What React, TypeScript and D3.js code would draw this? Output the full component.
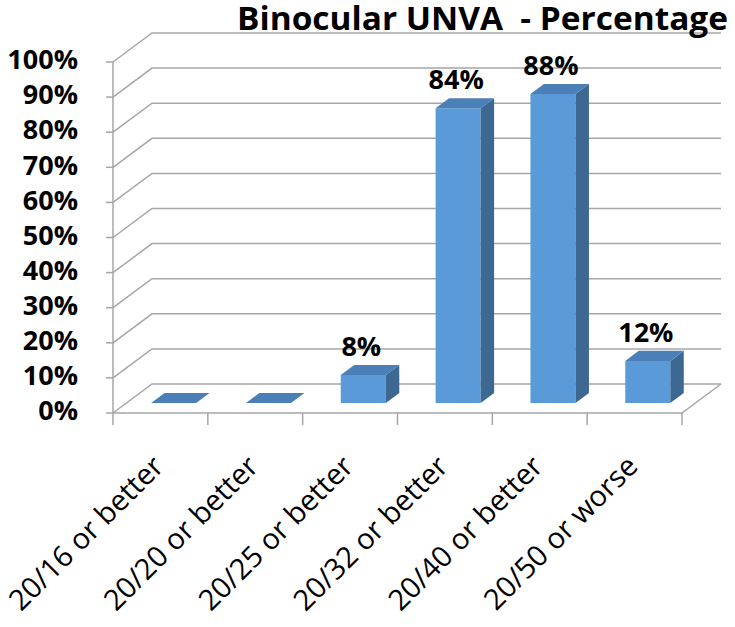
import * as d3 from "d3";

const categories = [
  "20/16 or better",
  "20/20 or better",
  "20/25 or better",
  "20/32 or better",
  "20/40 or better",
  "20/50 or worse",
];
const percentages = [0, 0, 8, 84, 88, 12];
const yTickValues = [0, 10, 20, 30, 40, 50, 60, 70, 80, 90, 100];
const title = "Binocular UNVA  - Percentage";

const width = 735;
const height = 627;
const plot = { left: 113, right: 682, top: 62, bottom: 413 };
// oblique depth of the 3D box
const depth = { dx: 39, dy: 29 };
const barZ = [0.345, 0.69];

const font = "'Open Sans', 'Liberation Sans', sans-serif";
const gridColor = "#a6a6a6";

export default function App() {
  const xScale = d3
    .scaleBand()
    .domain(categories)
    .range([plot.left, plot.right]);

  const yScale = d3
    .scaleLinear()
    .domain([0, 100])
    .range([plot.bottom, plot.top]);

  const P = (x: number, v: number, z: number): [number, number] => [
    x + z * depth.dx,
    yScale(v) - z * depth.dy,
  ];
  const pts = (list: [number, number][]) => list.map((p) => p.join(",")).join(" ");

  const bw = xScale.bandwidth();
  const barGap = bw * 0.26;
  const barWidth = bw * 0.475;

  return (
    <div style={{ position: "absolute", left: 0, top: 0 }}>
      <svg width={width} height={height} viewBox={`0 0 ${width} ${height}`} style={{ display: "block", background: "#fff" }}>
        {/* walls and gridlines */}
        {yTickValues.map((v) => {
          const f = P(plot.left, v, 0);
          const b = P(plot.left, v, 1);
          const br = P(plot.right, v, 1);
          return (
            <g key={v}>
              <polyline points={pts([f, b, br])} fill="none" stroke={gridColor} strokeWidth={1.5} />
              <line x1={plot.left - 7} x2={plot.left} y1={f[1]} y2={f[1]} stroke={gridColor} strokeWidth={1.5} />
              <text
                x={78}
                y={f[1]}
                textAnchor="end"
                dominantBaseline="middle"
                fontFamily={font}
                fontWeight="bold"
                fontSize={27}
                fill="#000"
              >
                {v}%
              </text>
            </g>
          );
        })}
        <line
          x1={plot.left}
          x2={plot.left}
          y1={yScale(0)}
          y2={yScale(100)}
          stroke={gridColor}
          strokeWidth={1.5}
        />
        <polyline
          points={pts([P(plot.left, 0, 0), P(plot.right, 0, 0), P(plot.right, 0, 1)])}
          fill="none"
          stroke={gridColor}
          strokeWidth={1.5}
        />
        {[...categories.map((c) => xScale(c) ?? 0), plot.right].map((x, i) => (
          <line key={i} x1={x} x2={x} y1={plot.bottom} y2={plot.bottom + 12} stroke={gridColor} strokeWidth={1.5} />
        ))}

        {/* bars */}
        {categories.map((c, i) => {
          const v = percentages[i];
          const xl = (xScale(c) ?? 0) + barGap;
          const xr = xl + barWidth;
          const front = pts([P(xl, v, barZ[0]), P(xr, v, barZ[0]), P(xr, 0, barZ[0]), P(xl, 0, barZ[0])]);
          const top = pts([P(xl, v, barZ[0]), P(xr, v, barZ[0]), P(xr, v, barZ[1]), P(xl, v, barZ[1])]);
          const side = pts([P(xr, 0, barZ[0]), P(xr, v, barZ[0]), P(xr, v, barZ[1]), P(xr, 0, barZ[1])]);
          const labelX = P(xl + barWidth / 2, v, barZ[0])[0] - 2;
          const labelY = P(xl, v, barZ[1])[1] - 9;
          return (
            <g key={c}>
              <polygon points={front} fill="#5a9ad8" />
              <polygon points={side} fill="#3c6892" />
              <polygon points={top} fill="#4a7fb8" />
              {v > 0 && (
                <text
                  x={labelX}
                  y={labelY}
                  textAnchor="middle"
                  fontFamily={font}
                  fontWeight="bold"
                  fontSize={27}
                  fill="#000"
                >
                  {v}%
                </text>
              )}
            </g>
          );
        })}

        {/* category labels */}
        {categories.map((c) => {
          const cx = (xScale(c) ?? 0) + bw / 2 + 5;
          const cy = 468;
          return (
            <text
              key={c}
              x={cx}
              y={cy}
              transform={`rotate(-45, ${cx}, ${cy})`}
              textAnchor="end"
              fontFamily={font}
              fontSize={29}
              fill="#000"
            >
              {c}
            </text>
          );
        })}

        <text
          x={728}
          y={30}
          textAnchor="end"
          fontFamily={font}
          fontWeight="bold"
          fontSize={32}
          textLength={491}
          lengthAdjust="spacingAndGlyphs"
          fill="#000"
          style={{ whiteSpace: "pre" }}
        >
          {title}
        </text>
      </svg>
    </div>
  );
}
